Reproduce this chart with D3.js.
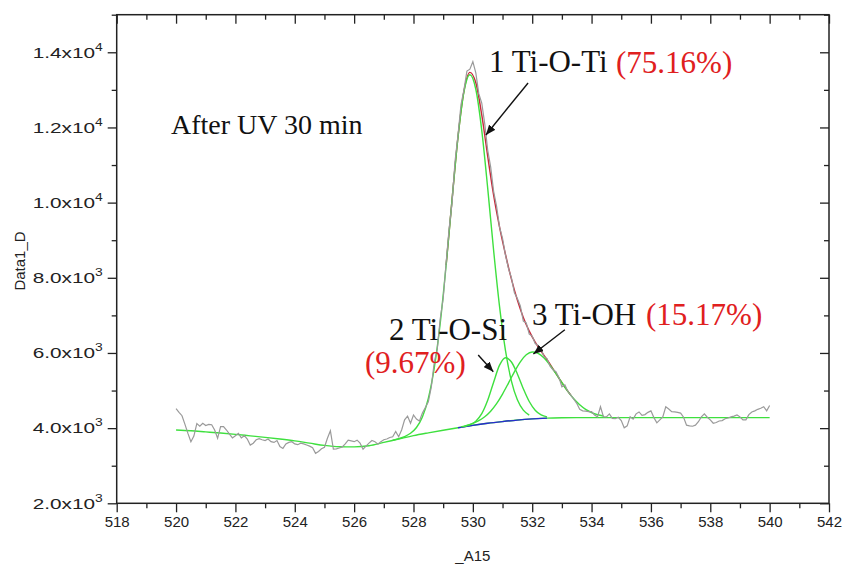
<!DOCTYPE html>
<html>
<head>
<meta charset="utf-8">
<script src="https://cdn.jsdelivr.net/npm/d3@7"></script>
<style>
  body { margin: 0; background: #fff; }
  .chart text { font-family: "Liberation Sans", Arial, sans-serif; }
  .chart text.serif { font-family: "Liberation Serif", "Times New Roman", serif; }
</style>
</head>
<body>
<div class="chart"></div>
<script>
// measured spectrum, 520 - 540 eV every 0.1 eV
const dataStart = 520
const dataStep = 0.1
const counts = [
  4520, 4420, 4330, 4100, 3860, 3640, 3790, 4120, 4050, 4130,
  4070, 4100, 4090, 3950, 3730, 4040, 4040, 3950, 3840, 3740,
  3800, 3860, 3740, 3800, 3710, 3550, 3600, 3690, 3720, 3690,
  3670, 3710, 3640, 3620, 3670, 3510, 3460, 3580, 3620, 3640,
  3580, 3560, 3600, 3580, 3550, 3520, 3480, 3330, 3380, 3450,
  3490, 3730, 3930, 3440, 3450, 3470, 3500, 3580, 3680, 3660,
  3640, 3680, 3600, 3440, 3520, 3600, 3670, 3640, 3570, 3640,
  3690, 3710, 3750, 3770, 3910, 3770, 3950, 4220, 4320, 4130,
  4350, 4240, 4190, 4400, 4550, 4700, 5100, 5750, 6100, 6900,
  7450, 8400, 9300, 10000, 11100, 11800, 12600, 13000, 13500, 13550,
  13750, 13450, 12900, 12650, 12100, 11400, 10950, 10300, 9900, 9350,
  9050, 8600, 8250, 8000, 7600, 7450, 7250, 6850, 6800, 6500,
  6450, 6250, 6200, 6100, 5900, 5850, 5650, 5550, 5500, 5350,
  5100, 5150, 4980, 4880, 4770, 4660, 4500, 4460, 4450, 4440,
  4440, 4350, 4300, 4570, 4305, 4300, 4380, 4260, 4250, 4290,
  4200, 4010, 4060, 4300, 4240, 4380, 4430, 4340, 4360, 4420,
  4460, 4280, 4140, 4220, 4300, 4570, 4510, 4440, 4430, 4420,
  4400, 4290, 4080, 4060, 4050, 4080, 4170, 4300, 4380, 4290,
  4220, 4130, 4150, 4190, 4200, 4250, 4270, 4300, 4320, 4350,
  4300, 4220, 4220, 4360, 4430, 4460, 4500, 4530, 4570, 4460,
  4600
]

// fitted background, every 0.5 eV
const baseStart = 520
const baseStep = 0.5
const baseline = [
  3950, 3930, 3900, 3870, 3835, 3795, 3755, 3710, 3660, 3600,
  3540, 3505, 3500, 3530, 3620, 3710, 3800, 3875, 3945, 4010,
  4075, 4130, 4175, 4215, 4245, 4265, 4275, 4280, 4280, 4280,
  4280, 4280, 4280, 4280, 4280, 4280, 4280, 4280, 4280, 4280, 4280
]

// fitted components (incl. background), every 0.2 eV
const fitStep = 0.2
const peak1Start = 527.3
const peak1 = [3677, 3720, 3776, 3864, 4017, 4296, 4793, 5603, 6789, 8338, 10083, 11744,
  12946, 13402, 13016, 11922, 10386, 8726, 7232, 6063, 5252, 4755, 4480, 4348]
const peak2Start = 529.7
const peak2 = [4043, 4091, 4186, 4384, 4740, 5223, 5675, 5873, 5759, 5442, 5050, 4709, 4478, 4352, 4299]
const peak3Start = 529.6
const peak3 = [4034, 4073, 4126, 4197, 4302, 4451, 4652, 4907, 5199, 5499, 5765, 5951, 6025,
  5988, 5867, 5678, 5449, 5209, 4980, 4782, 4621, 4500, 4415, 4358, 4323]
const envStart = 529.1
const envelope = [8339, 10086, 11753, 12969, 13466, 13188, 12334, 11237, 10197, 9348, 8620,
  7963, 7407, 6946, 6582, 6290, 6047, 5819, 5579, 5332, 5091, 4876]

const xMajor = [518, 520, 522, 524, 526, 528, 530, 532, 534, 536, 538, 540, 542]
const xMinor = [519, 521, 523, 525, 527, 529, 531, 533, 535, 537, 539, 541]
const yMajor = [2000, 4000, 6000, 8000, 10000, 12000, 14000]
const yMinor = [3000, 5000, 7000, 9000, 11000, 13000, 15000]
const yMantissa = ["2.0", "4.0", "6.0", "8.0", "1.0", "1.2", "1.4"]
const yExponent = ["3", "3", "3", "3", "4", "4", "4"]

const toPoints = (start, step, vals) => vals.map((v, i) => ({x: start + i * step, y: v}))

const width = 846
const height = 571
const plotLeft = 116.7, plotRight = 829, plotTop = 14.7, plotBottom = 503.3

const svg = d3.select(".chart").append("svg").attr("width", width).attr("height", height)

const x = d3.scaleLinear().domain([518, 542]).range([plotLeft, plotRight])
const y = d3.scaleLinear().domain([2000, 15000]).range([plotBottom, plotTop])

const line = d3.line().x(d => x(d.x)).y(d => y(d.y))
const smooth = d3.line().x(d => x(d.x)).y(d => y(d.y)).curve(d3.curveMonotoneX)

// axes
function styleAxis(g) {
  g.select(".domain").remove()
  g.selectAll(".tick line").attr("stroke", "#222").attr("stroke-width", 1.3)
  g.selectAll("text").attr("fill", "#222").attr("font-size", 15)
}
svg.append("g").attr("transform", "translate(0," + plotBottom + ")")
  .call(d3.axisBottom(x).tickValues(xMajor).tickSize(9).tickPadding(4).tickFormat(d3.format("d"))).call(styleAxis)
svg.append("g").attr("transform", "translate(0," + plotBottom + ")")
  .call(d3.axisBottom(x).tickValues(xMinor).tickSize(5).tickFormat("")).call(styleAxis)
svg.append("g").attr("transform", "translate(0," + plotTop + ")")
  .call(d3.axisBottom(x).tickValues(xMajor).tickSize(9).tickFormat("")).call(styleAxis)
svg.append("g").attr("transform", "translate(0," + plotTop + ")")
  .call(d3.axisBottom(x).tickValues(xMinor).tickSize(5).tickFormat("")).call(styleAxis)

const yAxis = svg.append("g").attr("transform", "translate(" + plotLeft + ",0)")
  .call(d3.axisLeft(y).tickValues(yMajor).tickSize(9).tickPadding(5)).call(styleAxis)
yAxis.selectAll(".tick text").each(function(d, i) {
  const t = d3.select(this).text("")
    .attr("textLength", 70).attr("lengthAdjust", "spacingAndGlyphs")
  t.append("tspan").text(yMantissa[i] + "x10")
  t.append("tspan").attr("font-size", 10).attr("dy", -7).text(yExponent[i])
})
svg.append("g").attr("transform", "translate(" + plotLeft + ",0)")
  .call(d3.axisLeft(y).tickValues(yMinor).tickSize(5).tickFormat("")).call(styleAxis)
svg.append("g").attr("transform", "translate(" + plotRight + ",0)")
  .call(d3.axisLeft(y).tickValues(yMajor).tickSize(9).tickFormat("")).call(styleAxis)
svg.append("g").attr("transform", "translate(" + plotRight + ",0)")
  .call(d3.axisLeft(y).tickValues(yMinor).tickSize(5).tickFormat("")).call(styleAxis)

svg.append("rect").attr("x", plotLeft).attr("y", plotTop)
  .attr("width", plotRight - plotLeft).attr("height", plotBottom - plotTop)
  .attr("fill", "none").attr("stroke", "#222").attr("stroke-width", 1.5)

svg.append("text").attr("transform", "translate(25," + 261 + ") rotate(-90)")
  .attr("text-anchor", "middle").attr("font-size", 15).attr("fill", "#222").text("Data1_D")
svg.append("text").attr("x", x(530)).attr("y", 561)
  .attr("text-anchor", "middle").attr("font-size", 15).attr("fill", "#222").text("_A15")

// curves
const basePts = toPoints(baseStart, baseStep, baseline)
svg.append("path").datum(basePts).attr("d", smooth)
  .attr("fill", "none").attr("stroke", "#3ee03e").attr("stroke-width", 1.4)
svg.append("path").datum(basePts.filter(d => d.x >= 529.5 && d.x <= 532.5)).attr("d", smooth)
  .attr("fill", "none").attr("stroke", "#2a2ad0").attr("stroke-width", 1.3)

svg.append("path").datum(toPoints(envStart, fitStep, envelope)).attr("d", smooth)
  .attr("fill", "none").attr("stroke", "#c8283a").attr("stroke-width", 1.4)

for (const [start, vals] of [[peak1Start, peak1], [peak2Start, peak2], [peak3Start, peak3]]) {
  svg.append("path").datum(toPoints(start, fitStep, vals)).attr("d", smooth)
    .attr("fill", "none").attr("stroke", "#3ee03e").attr("stroke-width", 1.4)
}

svg.append("path").datum(toPoints(dataStart, dataStep, counts)).attr("d", line)
  .attr("fill", "none").attr("stroke", "#9a9a9a").attr("stroke-width", 1.2)

// annotations
svg.append("defs").append("marker").attr("id", "head")
  .attr("viewBox", "0 0 10 8").attr("refX", 10).attr("refY", 4)
  .attr("markerWidth", 10).attr("markerHeight", 8).attr("markerUnits", "userSpaceOnUse")
  .attr("orient", "auto")
  .append("path").attr("d", "M0,0 L10,4 L0,8 Z").attr("fill", "#111")

const arrows = [
  [531.86, 13184, 530.44, 11800],
  [530.18, 5946, 530.69, 5502],
  [533.10, 6617, 532.04, 5973]
]
svg.selectAll(".arrow").data(arrows).join("line").attr("class", "arrow")
  .attr("x1", d => x(d[0])).attr("y1", d => y(d[1]))
  .attr("x2", d => x(d[2])).attr("y2", d => y(d[3]))
  .attr("stroke", "#111").attr("stroke-width", 1.4).attr("marker-end", "url(#head)")

const labels = [
  {t: "After UV 30 min", x: 171, y: 134, c: "#111", s: 28},
  {t: "1 Ti-O-Ti", x: 489, y: 72, c: "#111", s: 31},
  {t: "(75.16%)", x: 616, y: 73, c: "#e0201e", s: 31},
  {t: "2 Ti-O-Si", x: 389, y: 340, c: "#111", s: 31},
  {t: "(9.67%)", x: 365, y: 373, c: "#e0201e", s: 31},
  {t: "3 Ti-OH", x: 532, y: 325, c: "#111", s: 31},
  {t: "(15.17%)", x: 646, y: 325, c: "#e0201e", s: 31}
]
svg.selectAll(".lbl").data(labels).join("text").attr("class", "lbl serif")
  .attr("x", d => d.x).attr("y", d => d.y).attr("fill", d => d.c)
  .attr("font-size", d => d.s).text(d => d.t)
</script>
</body>
</html>
